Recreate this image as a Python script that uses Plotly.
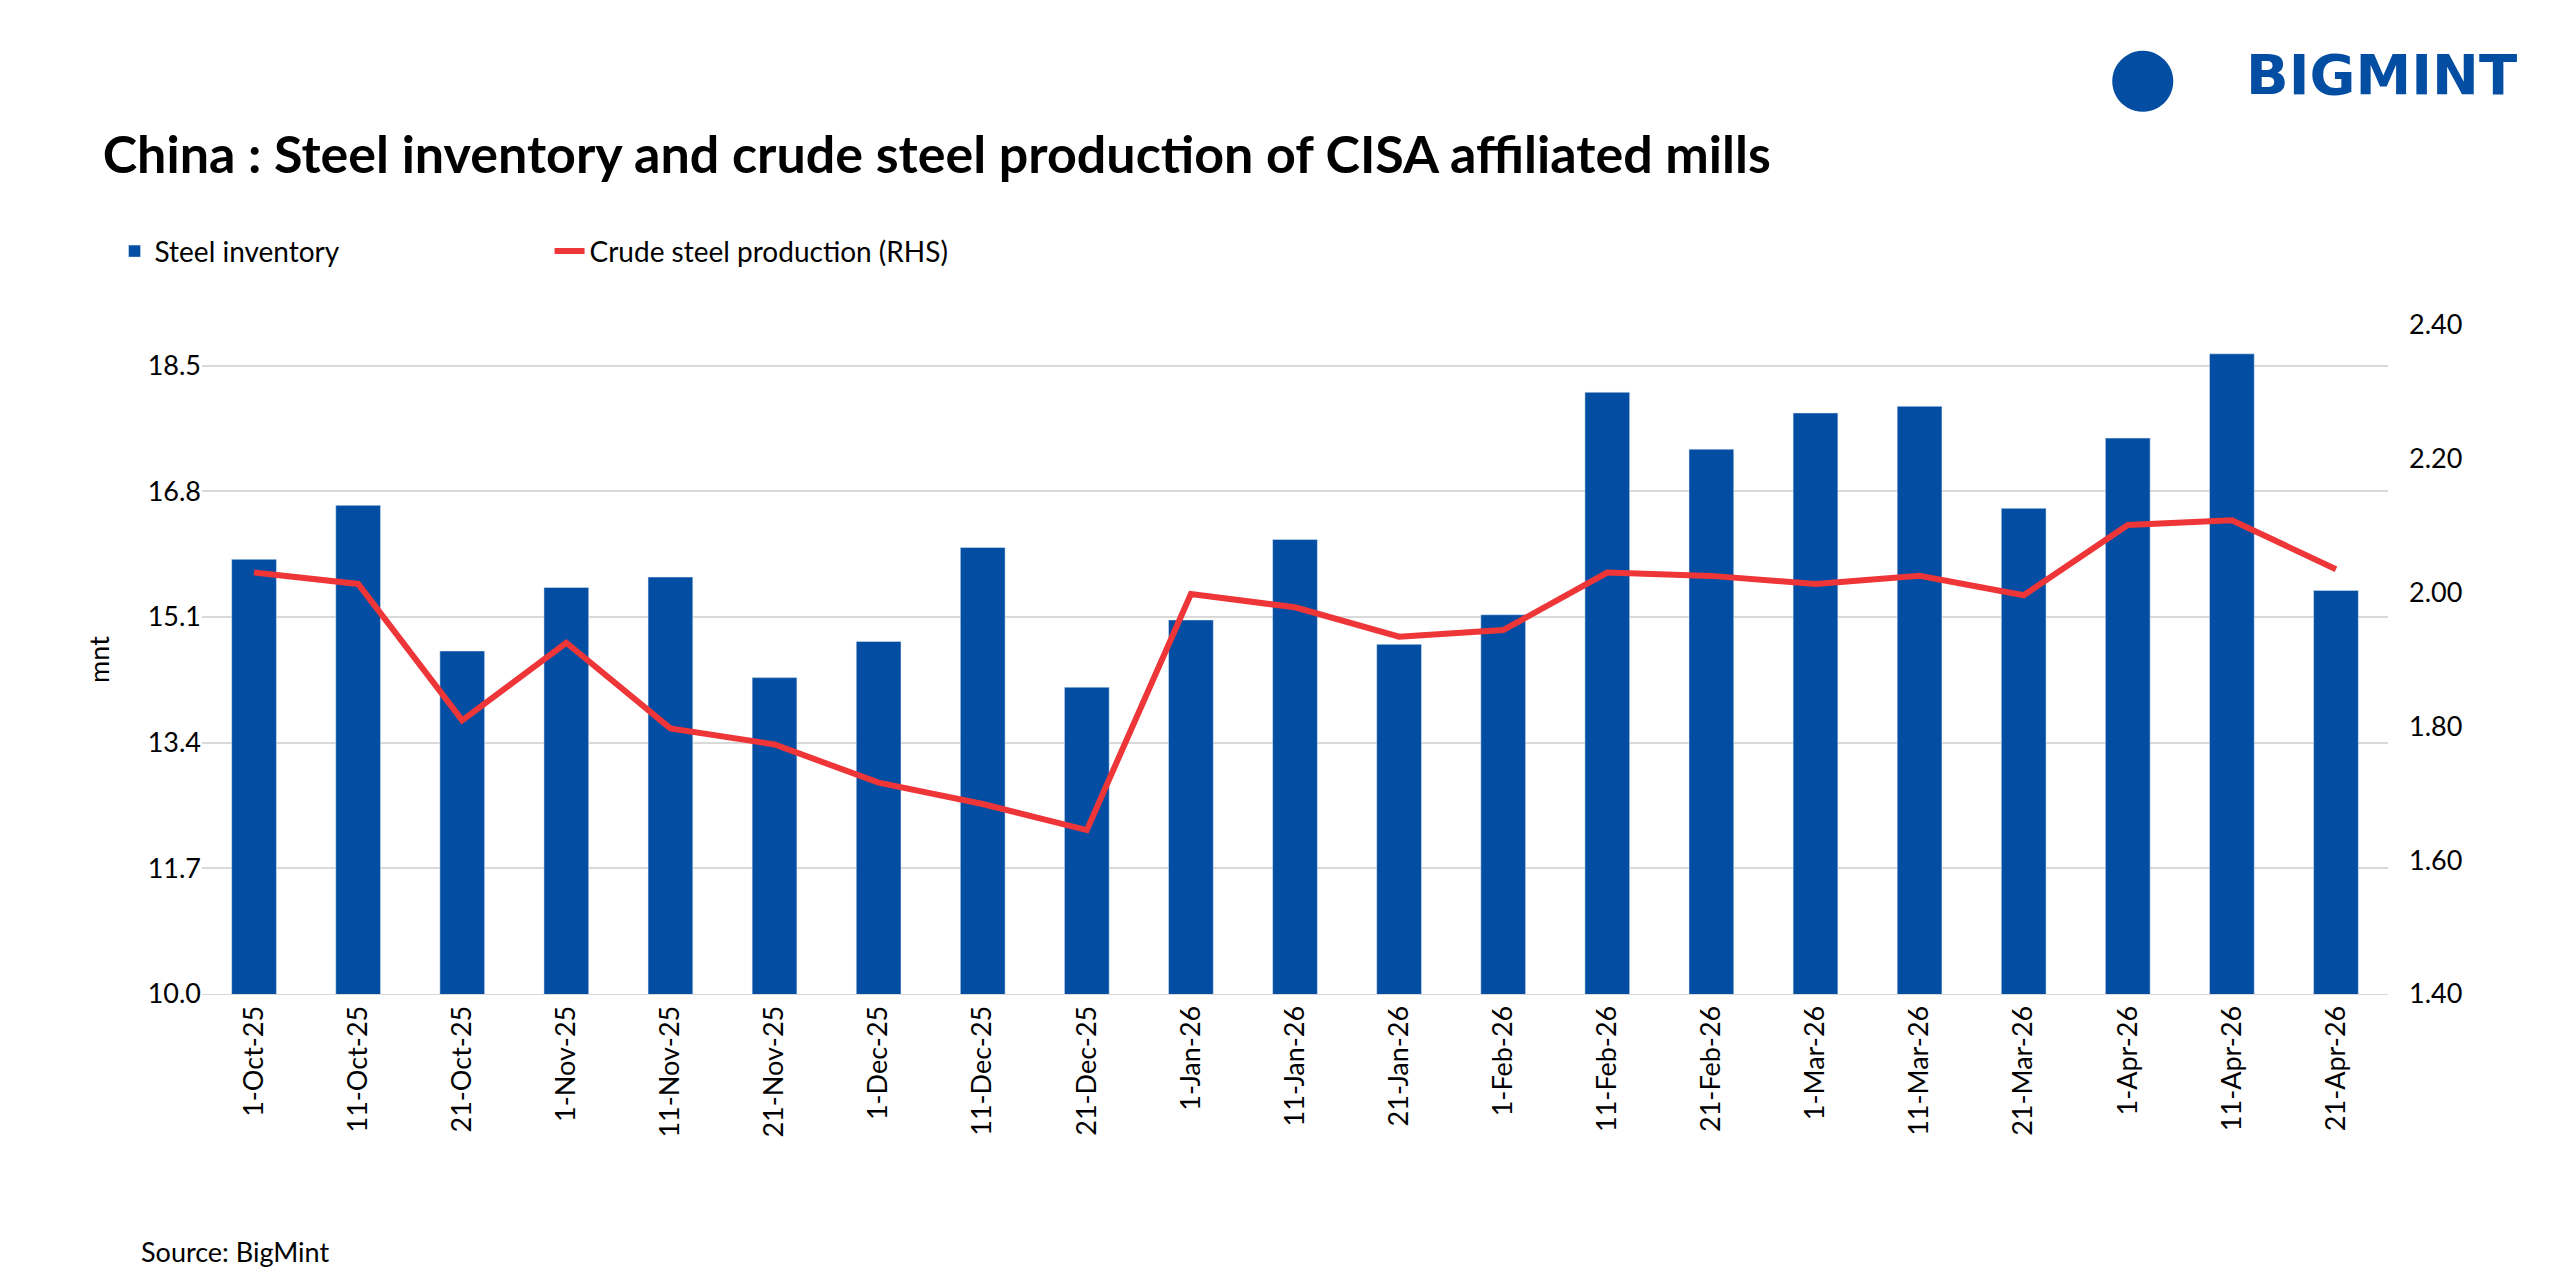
import plotly.graph_objects as go

dates = ["1-Oct-25","11-Oct-25","21-Oct-25","1-Nov-25","11-Nov-25","21-Nov-25","1-Dec-25","11-Dec-25","21-Dec-25",
         "1-Jan-26","11-Jan-26","21-Jan-26","1-Feb-26","11-Feb-26","21-Feb-26","1-Mar-26","11-Mar-26","21-Mar-26",
         "1-Apr-26","11-Apr-26","21-Apr-26"]
inventory = [15.88,16.61,14.64,15.50,15.64,14.28,14.77,16.04,14.15,15.06,16.15,14.73,15.13,18.14,17.37,17.86,17.95,16.57,17.52,18.66,15.46]
production = [2.030,2.013,1.809,1.925,1.797,1.773,1.716,1.684,1.645,1.998,1.978,1.934,1.944,2.030,2.025,2.013,2.025,1.996,2.101,2.108,2.035]
left_ticks = [10.0,11.7,13.4,15.1,16.8,18.5]
right_ticks = [1.40,1.60,1.80,2.00,2.20,2.40]

F = "Lato"
fig = go.Figure()
fig.add_trace(go.Bar(x=dates, y=inventory, name="Steel inventory", marker_color="#034EA2", width=0.43))
fig.add_trace(go.Scatter(x=dates, y=production, name="Crude steel production (RHS)", yaxis="y2",
                         mode="lines", line=dict(color="#EE3537", width=6)))
fig.update_layout(
    width=2560, height=1280, plot_bgcolor="white", paper_bgcolor="white",
    margin=dict(l=194, r=180, t=317, b=294),
    font=dict(family=F, color="black", size=27),
    title=dict(text="<b>China : Steel inventory and crude steel production of CISA affiliated mills</b>",
               x=0.037, xanchor="left", y=0.885, yanchor="middle", font=dict(size=52, family=F)),
    legend=dict(orientation="h", x=-0.04, y=1.11, xanchor="left", yanchor="middle",
                font=dict(size=28), traceorder="normal", entrywidth=390),
    xaxis=dict(tickangle=-90, showgrid=False, linecolor="#d9d9d9", ticks="", tickfont=dict(size=27)),
    yaxis=dict(range=[10, 19.05], tickvals=left_ticks, ticktext=[f"{v:.1f}" for v in left_ticks],
               showgrid=True, gridcolor="#d9d9d9", gridwidth=2, zeroline=False,
               title=dict(text="mnt", font=dict(size=27), standoff=30)),
    yaxis2=dict(range=[1.4, 2.4], overlaying="y", side="right", tickvals=right_ticks,
                ticktext=[f"{v:.2f}" for v in right_ticks], showgrid=False, zeroline=False,
                ticklabelstandoff=20),
    bargap=0.5,
)
fig.add_annotation(text="Source: BigMint", xref="paper", yref="paper", x=-0.029, y=-0.385,
                   xanchor="left", yanchor="middle", showarrow=False, font=dict(size=27))
fig.add_annotation(text="<b>BIGMINT</b>", xref="paper", yref="paper", x=1.06, y=1.375,
                   xanchor="right", yanchor="middle", showarrow=False,
                   font=dict(size=56, color="#034EA2", family="DejaVu Sans"))
fig.add_annotation(text="<b>●</b>", xref="paper", yref="paper", x=0.905, y=1.375,
                   xanchor="right", yanchor="middle", showarrow=False,
                   font=dict(size=80, color="#034EA2", family="DejaVu Sans"))
fig.write_html("out.html")
